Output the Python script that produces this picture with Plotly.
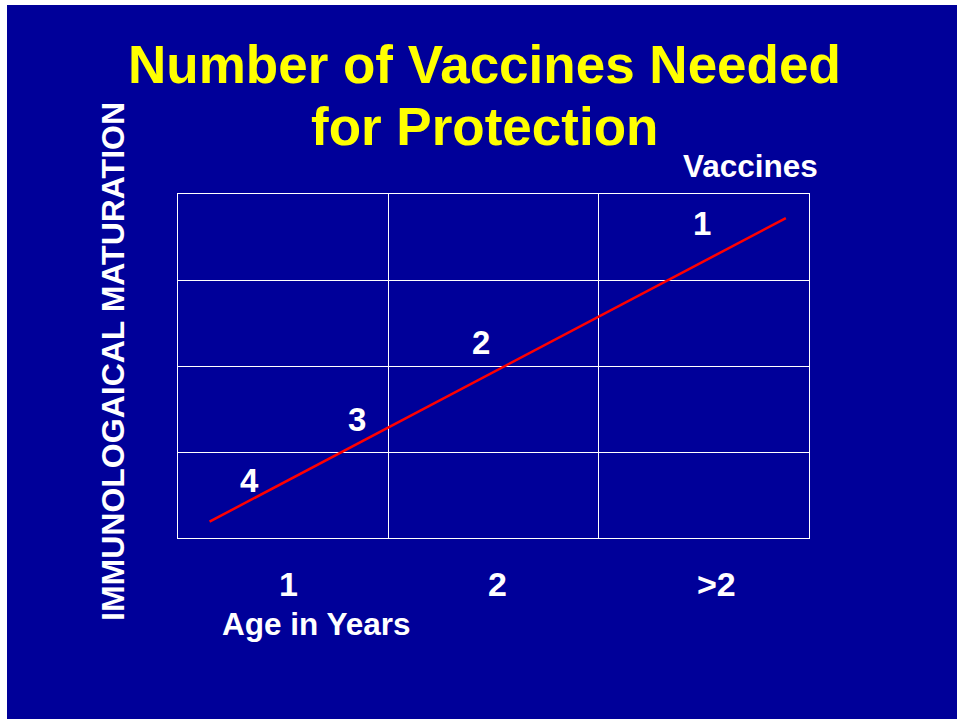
import plotly.graph_objects as go

W, H = 957, 719

# Data
age_labels = ["1", "2", ">2"]
age_label_x = [0.525, 1.52, 2.56]
vaccine_labels = ["4", "3", "2", "1"]
vaccine_x = [0.34, 0.85, 1.44, 2.49]
vaccine_y = [0.67, 1.38, 2.27, 3.66]
trend_x = [0.15, 2.89]
trend_y = [0.19, 3.72]
title_lines = ["Number of Vaccines Needed", "for Protection"]

BLUE = "#000099"
FONT = "Arial, Liberation Sans, sans-serif"

def px(x):
    return x / W

def py(y):
    return 1 - y / H

fig = go.Figure()
fig.add_trace(go.Scatter(x=trend_x, y=trend_y, mode="lines",
                         line=dict(color="#FF0000", width=2.5),
                         showlegend=False, hoverinfo="skip"))

for lab, x, y in zip(vaccine_labels, vaccine_x, vaccine_y):
    fig.add_annotation(x=x, y=y, xref="x", yref="y", text=lab, showarrow=False,
                       font=dict(family=FONT, size=33, color="white", weight="bold"),
                       xanchor="center", yanchor="middle")

for lab, x in zip(age_labels, age_label_x):
    fig.add_annotation(x=x, y=py(584), xref="x", yref="paper", text=lab, showarrow=False,
                       font=dict(family=FONT, size=34, color="white", weight="bold"),
                       xanchor="center", yanchor="middle")

fig.add_annotation(x=px(316), y=py(624), xref="paper", yref="paper", text="Age in Years",
                   showarrow=False, xanchor="center", yanchor="middle",
                   font=dict(family=FONT, size=31.5, color="white", weight="bold"))
fig.add_annotation(x=px(750), y=py(166), xref="paper", yref="paper", text="Vaccines",
                   showarrow=False, xanchor="center", yanchor="middle",
                   font=dict(family=FONT, size=31.5, color="white", weight="bold"))
fig.add_annotation(x=px(113), y=py(362), xref="paper", yref="paper",
                   text="IMMUNOLOGAICAL MATURATION", textangle=-90,
                   showarrow=False, xanchor="center", yanchor="middle",
                   font=dict(family=FONT, size=32, color="white", weight="bold"))
for line, yy in zip(title_lines, [65, 127]):
    fig.add_annotation(x=px(484), y=py(yy), xref="paper", yref="paper", text=line,
                       showarrow=False, xanchor="center", yanchor="middle",
                       font=dict(family=FONT, size=53, color="#FFFF00", weight="bold"))

fig.add_shape(type="rect", xref="paper", yref="paper", x0=0, x1=px(7), y0=0, y1=1,
              fillcolor="white", line=dict(width=0), layer="below")
fig.add_shape(type="rect", xref="paper", yref="paper", x0=0, x1=1, y0=py(5), y1=1,
              fillcolor="white", line=dict(width=0), layer="below")

axis_common = dict(showgrid=True, gridcolor="white", gridwidth=1, dtick=1,
                   showline=True, linecolor="white", linewidth=1, mirror=True,
                   zeroline=False, showticklabels=False, ticks="", fixedrange=True)
fig.update_xaxes(range=[0, 3], domain=[px(178), px(809)], tick0=0, **axis_common)
fig.update_yaxes(range=[0, 4], domain=[py(538), py(194)], tick0=0, **axis_common)

fig.update_layout(width=W, height=H, margin=dict(l=0, r=0, t=0, b=0),
                  paper_bgcolor=BLUE, plot_bgcolor=BLUE)

fig.write_html("out.html", config={"displayModeBar": False},
               post_script="document.body.style.margin='0';document.body.style.overflow='hidden';")
